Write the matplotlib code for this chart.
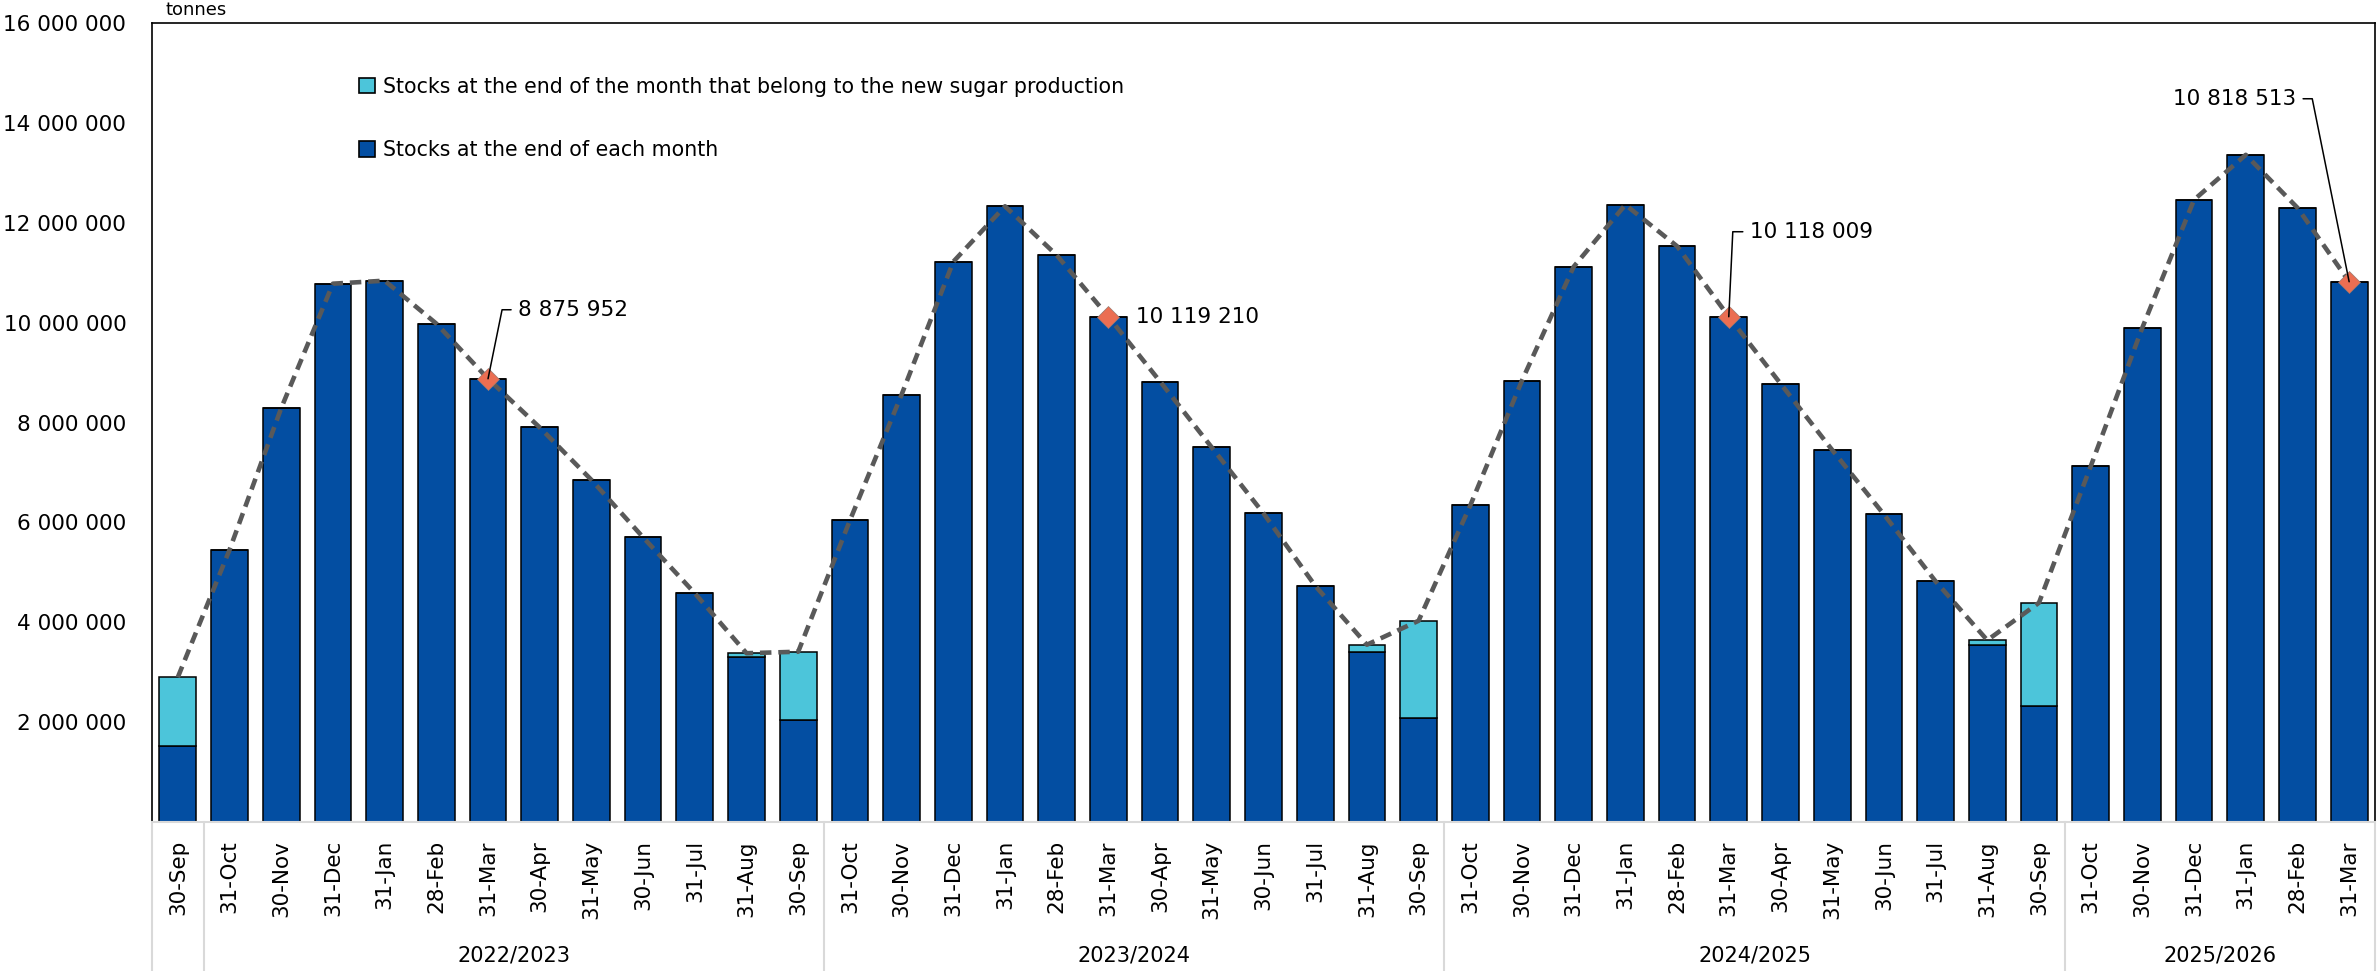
import matplotlib.pyplot as plt
import matplotlib.ticker as mticker
from matplotlib.patches import Patch
import numpy as np

# month-end labels, one per bar
months = ['30-Sep',
          '31-Oct', '30-Nov', '31-Dec', '31-Jan', '28-Feb', '31-Mar', '30-Apr', '31-May', '30-Jun', '31-Jul', '31-Aug', '30-Sep',
          '31-Oct', '30-Nov', '31-Dec', '31-Jan', '28-Feb', '31-Mar', '30-Apr', '31-May', '30-Jun', '31-Jul', '31-Aug', '30-Sep',
          '31-Oct', '30-Nov', '31-Dec', '31-Jan', '28-Feb', '31-Mar', '30-Apr', '31-May', '30-Jun', '31-Jul', '31-Aug', '30-Sep',
          '31-Oct', '30-Nov', '31-Dec', '31-Jan', '28-Feb', '31-Mar']

# marketing years: label, first bar, last bar
years = ['2022/2023', '2023/2024', '2024/2025', '2025/2026']
year_first = [1, 13, 25, 37]
year_last = [12, 24, 36, 42]

# stocks at end of each month (tonnes)
stocks_month = [1530000,
                5450000, 8290000, 10780000, 10840000, 9980000, 8875952, 7900000, 6850000, 5700000, 4580000, 3310000, 2050000,
                6040000, 8560000, 11220000, 12330000, 11350000, 10119210, 8820000, 7500000, 6180000, 4730000, 3400000, 2090000,
                6340000, 8840000, 11120000, 12360000, 11530000, 10118009, 8780000, 7450000, 6160000, 4820000, 3550000, 2320000,
                7120000, 9900000, 12460000, 13360000, 12300000, 10818513]

# part of the stocks that belongs to the new sugar production
stocks_new = [1370000,
              0, 0, 0, 0, 0, 0, 0, 0, 0, 0, 70000, 1360000,
              0, 0, 0, 0, 0, 0, 0, 0, 0, 0, 150000, 1940000,
              0, 0, 0, 0, 0, 0, 0, 0, 0, 0, 90000, 2070000,
              0, 0, 0, 0, 0, 0]

# highlighted points
marked_idx = [6, 18, 30, 42]

dark = '#034EA2'
light = '#4CC5DA'
coral = '#EB6E52'

plt.rcParams['font.family'] = 'DejaVu Sans'

fig = plt.figure(figsize=(23.77, 9.71), dpi=100)
ax = fig.add_axes([152 / 2377, 1 - 822 / 971, (2375 - 152) / 2377, (822 - 23) / 971])

x = np.arange(len(months))
month_vals = np.array(stocks_month)
new_vals = np.array(stocks_new)
total = month_vals + new_vals

ax.bar(x, month_vals, width=0.71, color=dark, edgecolor='black', linewidth=1.1, zorder=2)
ax.bar(x, new_vals, width=0.71, bottom=month_vals, color=light, edgecolor='black', linewidth=1.1, zorder=2)

# dashed line through the totals
ax.plot(x, total, color='#595959', lw=3.3, linestyle=(0, (2.5, 1.5)), zorder=3)
ax.plot(x[marked_idx], total[marked_idx], 'D', color=coral, ms=11, mec='#9a7a70', mew=0.5, zorder=4)

def fmt(v, pos=None):
    return f'{int(round(v)):,}'.replace(',', ' ')

# labels of the highlighted points: offset in pixels, alignment, leader angle (None = no leader)
lab_off = [(30, 69), (28, 0), (21, 85), (-53, 183)]
lab_ha = ['left', 'left', 'left', 'right']
lead_ang = [78.5, None, 87.3, 101.4]
for k, i in enumerate(marked_idx):
    arrow = None
    if lead_ang[k] is not None:
        arrow = dict(arrowstyle='-', color='black', lw=1.1, shrinkA=5, shrinkB=0,
                     relpos=(0, 0.5) if lab_ha[k] == 'left' else (1, 0.5), patchA=None,
                     connectionstyle=f'angle,angleA=0,angleB={lead_ang[k]},rad=0')
    ax.annotate(fmt(total[i]), xy=(i, total[i]), xytext=lab_off[k], textcoords='offset pixels',
                ha=lab_ha[k], va='center', fontsize=15.5, arrowprops=arrow, zorder=5)

ax.set_xlim(-0.5, len(months) - 0.5)
ax.set_ylim(0, 16000000)
ax.set_yticks(np.arange(2000000, 16000001, 2000000))
ax.yaxis.set_major_formatter(mticker.FuncFormatter(fmt))
ax.set_xticks(x)
ax.set_xticklabels(months, rotation=90)
ax.tick_params(axis='y', length=0, pad=18.5, labelsize=15.5)
ax.tick_params(axis='x', length=0, pad=13, labelsize=15.5)

for s in ['top', 'left', 'right']:
    ax.spines[s].set_linewidth(1.2)
    ax.spines[s].set_color('black')
ax.spines['bottom'].set_color('#D9D9D9')
ax.spines['bottom'].set_linewidth(1.5)

# group separators and year labels below the axis
sep_tr = ax.get_xaxis_transform()
bottom_y = -(971 - 822) / (822 - 23)
for b in [-0.5] + [f - 0.5 for f in year_first] + [len(months) - 0.5]:
    ax.plot([b, b], [0, bottom_y], color='#D9D9D9', lw=1.5, transform=sep_tr, clip_on=False)
for lab, f, l in zip(years, year_first, year_last):
    ax.text((f + l) / 2, -(955 - 822) / (822 - 23), lab, transform=sep_tr,
            ha='center', va='center', fontsize=15)

fig.text(165 / 2377, 1 - 10 / 971, 'tonnes', fontsize=13, ha='left', va='center')

handles = [Patch(facecolor=light, edgecolor='black', lw=1.2),
           Patch(facecolor=dark, edgecolor='black', lw=1.2)]
labels = ['Stocks at the end of the month that belong to the new sugar production',
          'Stocks at the end of each month']
ax.legend(handles, labels, loc='center left', bbox_to_anchor=((359 - 152) / 2223, (822 - 118.5) / 799),
          frameon=False, fontsize=14.8, handlelength=0.78, handleheight=0.78,
          handletextpad=0.4, labelspacing=2.1, borderpad=0, borderaxespad=0)

fig.savefig('out.png', dpi=100)
